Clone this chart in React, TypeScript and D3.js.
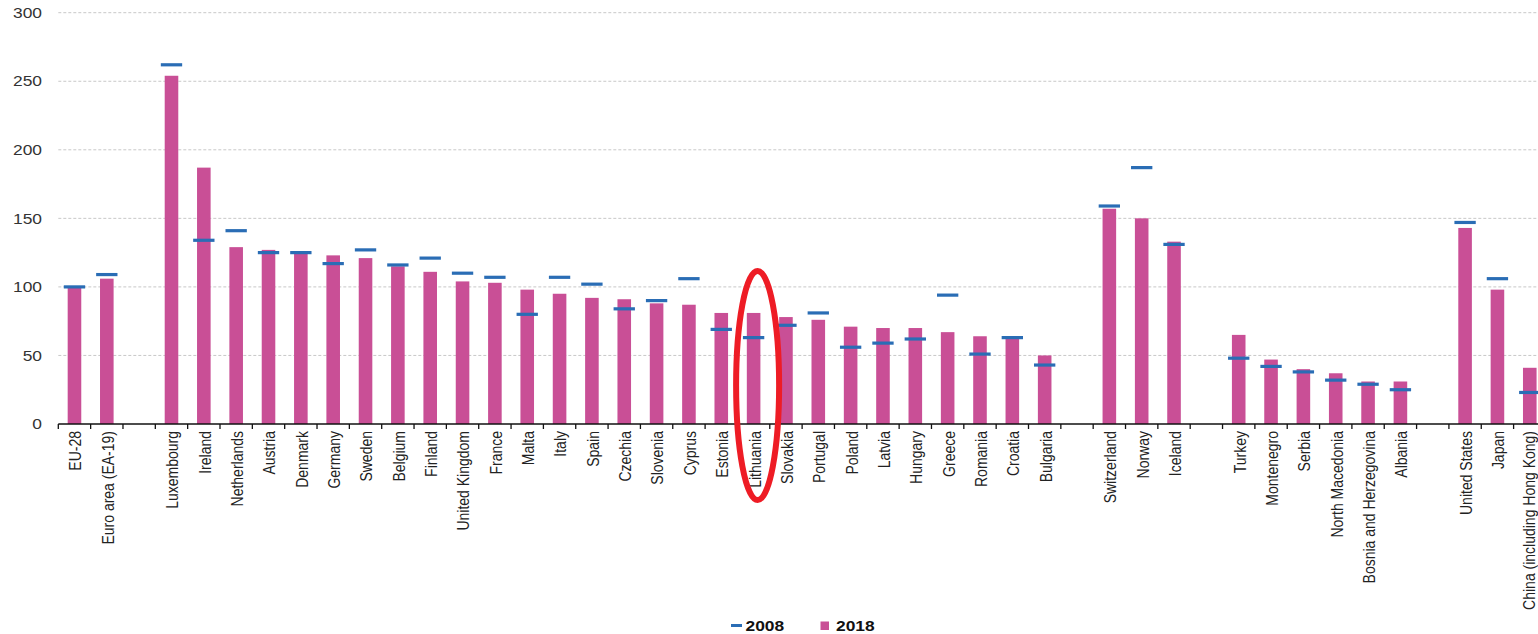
import React, { useEffect, useRef } from 'react';
import * as d3 from 'd3';

// category slots, empty strings are the gaps between country groups
const categories = [
  'EU-28', 'Euro area (EA-19)', '',
  'Luxembourg', 'Ireland', 'Netherlands', 'Austria', 'Denmark', 'Germany', 'Sweden', 'Belgium',
  'Finland', 'United Kingdom', 'France', 'Malta', 'Italy', 'Spain', 'Czechia', 'Slovenia',
  'Cyprus', 'Estonia', 'Lithuania', 'Slovakia', 'Portugal', 'Poland', 'Latvia', 'Hungary',
  'Greece', 'Romania', 'Croatia', 'Bulgaria', '',
  'Switzerland', 'Norway', 'Iceland', '',
  'Turkey', 'Montenegro', 'Serbia', 'North Macedonia', 'Bosnia and Herzegovina', 'Albania', '',
  'United States', 'Japan', 'China (including Hong Kong)',
];

const values2018 = [
  100, 106, null,
  254, 187, 129, 127, 125, 123, 121, 115,
  111, 104, 103, 98, 95, 92, 91, 88,
  87, 81, 81, 78, 76, 71, 70, 70,
  67, 64, 63, 50, null,
  157, 150, 133, null,
  65, 47, 40, 37, 31, 31, null,
  143, 98, 41,
];

const values2008 = [
  100, 109, null,
  262, 134, 141, 125, 125, 117, 127, 116,
  121, 110, 107, 80, 107, 102, 84, 90,
  106, 69, 63, 72, 81, 56, 59, 62,
  94, 51, 63, 43, null,
  159, 187, 131, null,
  48, 42, 38, 32, 29, 25, null,
  147, 106, 23,
];

const yTicks = [0, 50, 100, 150, 200, 250, 300];
const highlighted = 'Lithuania';

const PINK = '#c94f96';
const BLUE = '#2a6db5';
const FONT = '"Liberation Sans", Arial, sans-serif';

const App = () => {
  const ref = useRef<SVGSVGElement>(null);

  useEffect(() => {
    const svg = d3.select(ref.current);
    svg.selectAll('*').remove();

    const width = 1538;
    const left = 58.3;
    const right = 58.3 + 46 * 32.34; // last bar is cut by the picture edge

    const x = d3.scaleBand<number>()
      .domain(d3.range(categories.length))
      .range([left, right])
      .padding(0);

    const y = d3.scaleLinear().domain([0, 300]).range([424, 12.7]);

    const bw = x.bandwidth();

    // gridlines
    svg.append('g')
      .selectAll('line')
      .data(yTicks.filter((t) => t > 0))
      .enter().append('line')
      .attr('x1', left)
      .attr('x2', width)
      .attr('y1', (d) => y(d))
      .attr('y2', (d) => y(d))
      .attr('stroke', '#c8c8c8')
      .attr('stroke-width', 1)
      .attr('stroke-dasharray', '3,2');

    // y labels
    svg.append('g')
      .selectAll('text')
      .data(yTicks)
      .enter().append('text')
      .attr('transform', (d) => `translate(42,${y(d)}) scale(1.2,1)`)
      .attr('dy', '0.36em')
      .attr('text-anchor', 'end')
      .style('font', `14.5px ${FONT}`)
      .style('fill', '#333')
      .text((d) => d);

    const idx = d3.range(categories.length);

    // 2018 bars
    svg.append('g')
      .selectAll('rect')
      .data(idx.filter((i) => values2018[i] != null))
      .enter().append('rect')
      .attr('x', (i) => x(i)! + bw / 2 - bw * 0.21)
      .attr('width', bw * 0.42)
      .attr('y', (i) => y(values2018[i]!))
      .attr('height', (i) => y(0) - y(values2018[i]!))
      .attr('fill', PINK);

    // 2008 markers
    svg.append('g')
      .selectAll('line')
      .data(idx.filter((i) => values2008[i] != null))
      .enter().append('line')
      .attr('x1', (i) => x(i)! + bw / 2 - bw * 0.33)
      .attr('x2', (i) => x(i)! + bw / 2 + bw * 0.33)
      .attr('y1', (i) => y(values2008[i]!))
      .attr('y2', (i) => y(values2008[i]!))
      .attr('stroke', BLUE)
      .attr('stroke-width', 3.2);

    // x axis
    svg.append('line')
      .attr('x1', left)
      .attr('x2', width)
      .attr('y1', y(0))
      .attr('y2', y(0))
      .attr('stroke', '#111')
      .attr('stroke-width', 1.5);

    svg.append('g')
      .selectAll('line')
      .data(d3.range(categories.length + 1))
      .enter().append('line')
      .attr('x1', (i) => left + i * bw)
      .attr('x2', (i) => left + i * bw)
      .attr('y1', y(0))
      .attr('y2', y(0) + 5)
      .attr('stroke', '#111')
      .attr('stroke-width', 1.3);

    svg.append('g')
      .selectAll('text')
      .data(idx.filter((i) => categories[i] !== ''))
      .enter().append('text')
      .attr('transform', (i) => {
        const cx = Math.min(x(i)! + bw / 2 + 1, width - 9);
        return `translate(${cx},431) scale(1.2,1) rotate(-90)`;
      })
      .attr('dy', '0.35em')
      .attr('text-anchor', 'end')
      .style('font', `14px ${FONT}`)
      .style('fill', '#222')
      .text((i) => categories[i]);

    // red annotation ellipse
    const hi = categories.indexOf(highlighted);
    svg.append('ellipse')
      .attr('cx', x(hi)! + bw / 2 + 4)
      .attr('cy', 385.5)
      .attr('rx', 21.5)
      .attr('ry', 114.5)
      .attr('fill', 'none')
      .attr('stroke', '#ee1c25')
      .attr('stroke-width', 6);

    // legend
    const lg = svg.append('g');
    lg.append('line')
      .attr('x1', 731).attr('x2', 742)
      .attr('y1', 625.5).attr('y2', 625.5)
      .attr('stroke', BLUE).attr('stroke-width', 3);
    lg.append('text')
      .attr('transform', 'translate(745.5,630.5) scale(1.2,1)')
      .style('font', `bold 14.5px ${FONT}`)
      .style('fill', '#111')
      .text('2008');
    lg.append('rect')
      .attr('x', 820.5).attr('y', 621.5)
      .attr('width', 8.5).attr('height', 8.5)
      .attr('fill', PINK);
    lg.append('text')
      .attr('transform', 'translate(836,630.5) scale(1.2,1)')
      .style('font', `bold 14.5px ${FONT}`)
      .style('fill', '#111')
      .text('2018');
  }, []);

  return (
    <svg
      ref={ref}
      width={1538}
      height={634}
      style={{ position: 'absolute', left: 0, top: 0, background: '#fff', overflow: 'hidden' }}
    />
  );
};

export default App;
